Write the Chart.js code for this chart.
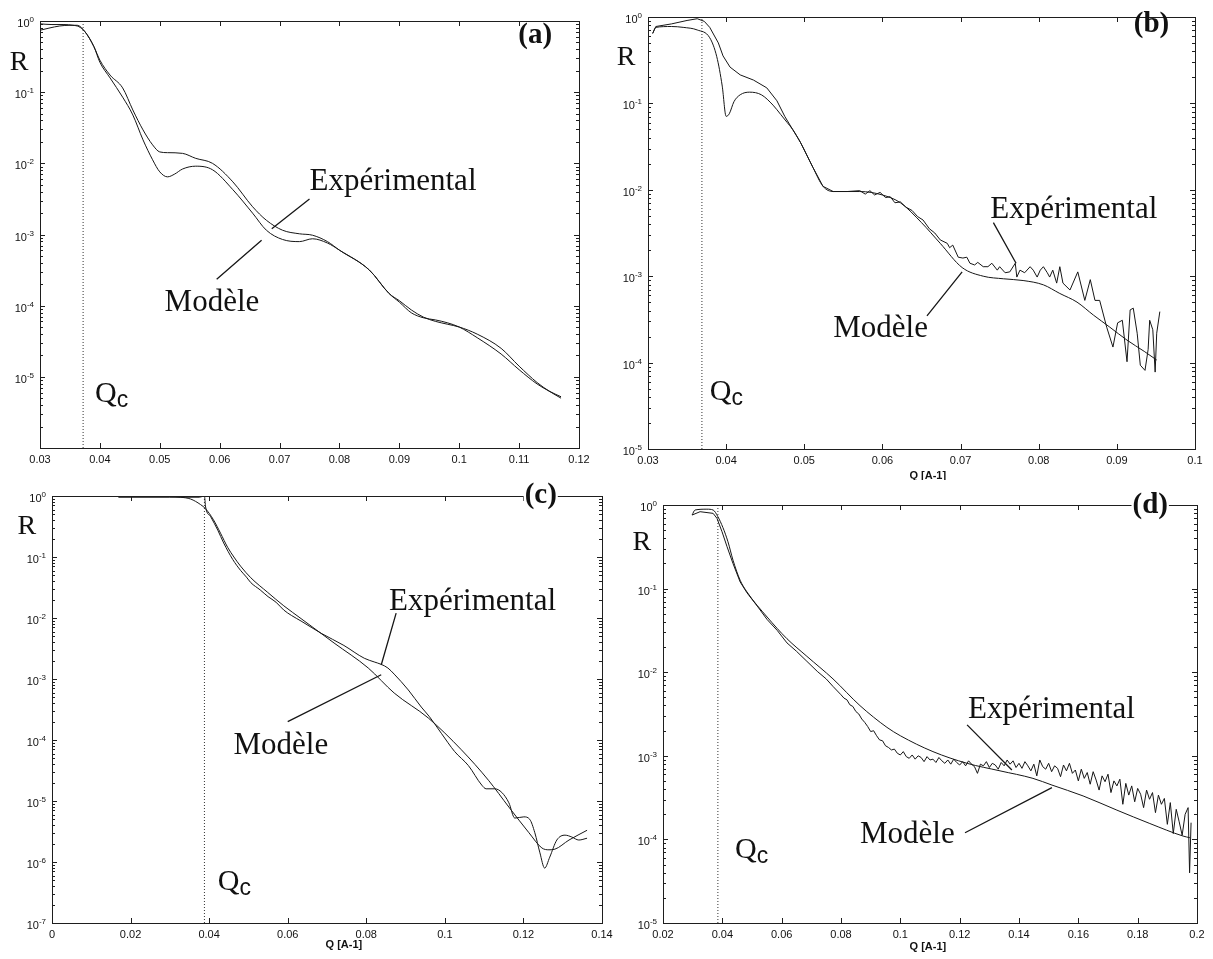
<!DOCTYPE html>
<html>
<head>
<meta charset="utf-8">
<script src="https://cdn.jsdelivr.net/npm/chart.js@4.4.0/dist/chart.umd.min.js"></script>
<style>
  html, body { margin: 0; padding: 0; background: #fff; }
  #page { position: relative; width: 1213px; height: 959px; overflow: hidden; background: #fff; }
  canvas { position: absolute; }
</style>
</head>
<body>
<div id="page">
  <canvas id="pa" width="620" height="480" style="left:0;top:0"></canvas>
  <canvas id="pb" width="607" height="480" style="left:606px;top:0"></canvas>
  <canvas id="pc" width="625" height="479" style="left:0;top:480px"></canvas>
  <canvas id="pd" width="607" height="479" style="left:606px;top:480px"></canvas>
</div>
<script>
// -------- DONNEES (Q en A-1, log10 R) --------

// (a)
const aExp = [[0.0300,-0.04],[0.0320,-0.05],[0.0340,-0.05],[0.0355,-0.06],[0.0365,-0.08],[0.0375,-0.15],
  [0.0390,-0.36],[0.0400,-0.55],[0.0417,-0.76],[0.0438,-0.94],[0.0455,-1.25],[0.0472,-1.53],[0.0488,-1.74],
  [0.0500,-1.84],[0.0513,-1.85],[0.0538,-1.86],[0.0560,-1.93],[0.0588,-2.00],[0.0622,-2.26],[0.0655,-2.61],
  [0.0678,-2.80],[0.0705,-2.94],[0.0733,-2.99],[0.0755,-3.01],[0.0780,-3.10],[0.0800,-3.22],[0.0850,-3.50],
  [0.0883,-3.83],[0.0900,-3.95],[0.0920,-4.10],[0.0940,-4.17],[0.0960,-4.20],[0.0980,-4.24],[0.1000,-4.30],
  [0.1030,-4.45],[0.1070,-4.68],[0.1100,-4.90],[0.1130,-5.10],[0.1150,-5.20],[0.1170,-5.28]];
const aMod = [[0.0300,-0.13],[0.0315,-0.10],[0.0333,-0.07],[0.0350,-0.06],[0.0362,-0.06],[0.0375,-0.15],
  [0.0390,-0.36],[0.0400,-0.58],[0.0417,-0.80],[0.0438,-1.07],[0.0455,-1.32],[0.0472,-1.67],[0.0488,-1.95],
  [0.0500,-2.12],[0.0513,-2.19],[0.0525,-2.15],[0.0538,-2.08],[0.0560,-2.04],[0.0588,-2.09],[0.0622,-2.37],
  [0.0655,-2.70],[0.0678,-2.94],[0.0705,-3.07],[0.0733,-3.10],[0.0755,-3.06],[0.0780,-3.12],[0.0800,-3.22],
  [0.0850,-3.50],[0.0883,-3.83],[0.0900,-3.93],[0.0920,-4.06],[0.0940,-4.16],[0.0960,-4.22],[0.0980,-4.26],
  [0.1000,-4.30],[0.1030,-4.40],[0.1070,-4.60],[0.1100,-4.85],[0.1130,-5.08],[0.1150,-5.20],[0.1170,-5.30]];
const aQc = 0.0372;
const aXTicks = [0.03,0.04,0.05,0.06,0.07,0.08,0.09,0.1,0.11,0.12];
const aXLabels = ['0.03','0.04','0.05','0.06','0.07','0.08','0.09','0.1','0.11','0.12'];
const aDecades = [0,-1,-2,-3,-4,-5,-6];
const aYLabels = ['0','-1','-2','-3','-4','-5',''];

// (b)
const bExp = [[0.0306,-0.19],[0.0310,-0.11],[0.0330,-0.08],[0.0350,-0.04],[0.0363,-0.02],[0.0372,-0.05],
  [0.0379,-0.12],[0.0390,-0.30],[0.0396,-0.45],[0.0405,-0.58],[0.0418,-0.67],[0.0435,-0.73],[0.0452,-0.82],
  [0.0465,-0.97],[0.0475,-1.15],[0.0485,-1.30],[0.0495,-1.45],[0.0511,-1.74],[0.0524,-1.96],[0.0537,-2.02],
  [0.0555,-2.02],[0.0571,-2.01],[0.0578,-2.05],[0.0584,-2.01],[0.0590,-2.06],[0.0597,-2.03],[0.0604,-2.09],
  [0.0610,-2.08],[0.0616,-2.15],[0.0623,-2.14],[0.0630,-2.20],[0.0638,-2.24],[0.0645,-2.31],[0.0652,-2.35],
  [0.0660,-2.45],[0.0667,-2.50],[0.0674,-2.58],[0.0683,-2.62],[0.0686,-2.67],[0.0690,-2.64],[0.0697,-2.78],
  [0.0703,-2.79],[0.0708,-2.78],[0.0712,-2.85],[0.0718,-2.87],[0.0722,-2.84],[0.0729,-2.89],[0.0735,-2.89],
  [0.0740,-2.85],[0.0747,-2.93],[0.0750,-2.89],[0.0757,-2.96],[0.0763,-2.95],[0.0770,-2.85],[0.0772,-3.01],
  [0.0776,-2.93],[0.0782,-2.96],[0.0789,-2.89],[0.0793,-2.93],[0.0798,-3.01],[0.0802,-2.93],[0.0806,-2.89],
  [0.0811,-2.96],[0.0814,-3.01],[0.0818,-2.93],[0.0823,-3.08],[0.0827,-2.89],[0.0831,-3.08],[0.0840,-3.16],
  [0.0850,-2.95],[0.0859,-3.28],[0.0866,-3.04],[0.0872,-3.28],[0.0878,-3.28],[0.0887,-3.59],[0.0895,-3.82],
  [0.0901,-3.54],[0.0907,-3.51],[0.0913,-3.99],[0.0917,-3.39],[0.0921,-3.37],[0.0926,-3.66],[0.0930,-4.03],
  [0.0936,-4.09],[0.0940,-3.85],[0.0942,-3.51],[0.0946,-3.62],[0.0949,-4.11],[0.0951,-3.66],[0.0955,-3.41]];
const bMod = [[0.0306,-0.19],[0.0310,-0.12],[0.0330,-0.11],[0.0345,-0.12],[0.0363,-0.15],[0.0379,-0.24],
  [0.0388,-0.46],[0.0395,-0.80],[0.0400,-1.15],[0.0404,-1.12],[0.0410,-0.98],[0.0418,-0.90],[0.0430,-0.87],
  [0.0445,-0.90],[0.0460,-1.02],[0.0470,-1.13],[0.0478,-1.22],[0.0485,-1.30],[0.0495,-1.45],[0.0511,-1.74],
  [0.0524,-1.96],[0.0537,-2.02],[0.0571,-2.02],[0.0600,-2.06],[0.0623,-2.15],[0.0650,-2.38],[0.0674,-2.62],
  [0.0702,-2.90],[0.0729,-3.00],[0.0755,-3.03],[0.0780,-3.05],[0.0806,-3.10],[0.0827,-3.20],[0.0849,-3.30],
  [0.0870,-3.45],[0.0891,-3.59],[0.0913,-3.74],[0.0935,-3.87],[0.0951,-3.97]];
const bQc = 0.0369;
const bXTicks = [0.03,0.04,0.05,0.06,0.07,0.08,0.09,0.1];
const bXLabels = ['0.03','0.04','0.05','0.06','0.07','0.08','0.09','0.1'];
const bDecades = [0,-1,-2,-3,-4,-5];
const bYLabels = ['0','-1','-2','-3','-4','-5'];

// (c)
const cExp = [[0.0169,-0.02],[0.0300,-0.02],[0.0375,-0.02],[0.0388,0.00],[0.0391,-0.18],[0.0404,-0.34],
  [0.0422,-0.56],[0.0437,-0.77],[0.0460,-1.04],[0.0480,-1.22],[0.0495,-1.33],[0.0506,-1.42],[0.0530,-1.54],
  [0.0550,-1.65],[0.0570,-1.74],[0.0590,-1.87],[0.0610,-1.96],[0.0634,-2.05],[0.0685,-2.25],[0.0743,-2.45],
  [0.0795,-2.66],[0.0820,-2.72],[0.0838,-2.76],[0.0855,-2.82],[0.0871,-2.92],[0.0907,-3.18],[0.0940,-3.46],
  [0.0961,-3.62],[0.0991,-3.89],[0.1025,-4.19],[0.1060,-4.42],[0.1094,-4.74],[0.1105,-4.80],[0.1127,-4.80],
  [0.1145,-4.86],[0.1163,-5.03],[0.1178,-5.28],[0.1201,-5.26],[0.1216,-5.30],[0.1229,-5.52],[0.1242,-5.85],
  [0.1254,-6.10],[0.1267,-5.92],[0.1285,-5.64],[0.1306,-5.56],[0.1323,-5.59],[0.1341,-5.64],[0.1362,-5.61]];
const cMod = [[0.0169,-0.01],[0.0300,-0.01],[0.0327,-0.02],[0.0353,-0.05],[0.0378,-0.14],[0.0391,-0.21],
  [0.0411,-0.39],[0.0429,-0.61],[0.0447,-0.84],[0.0463,-1.00],[0.0480,-1.15],[0.0506,-1.34],[0.0549,-1.58],
  [0.0590,-1.80],[0.0634,-2.01],[0.0718,-2.41],[0.0805,-2.82],[0.0871,-3.23],[0.0958,-3.64],[0.1042,-4.16],
  [0.1111,-4.66],[0.1163,-5.10],[0.1214,-5.52],[0.1247,-5.77],[0.1265,-5.80],[0.1280,-5.79],[0.1316,-5.64],
  [0.1362,-5.48]];
const cQc = 0.0388;
const cXTicks = [0,0.02,0.04,0.06,0.08,0.1,0.12,0.14];
const cXLabels = ['0','0.02','0.04','0.06','0.08','0.1','0.12','0.14'];
const cDecades = [0,-1,-2,-3,-4,-5,-6,-7];
const cYLabels = ['0','-1','-2','-3','-4','-5','-6','-7'];

// (d)
const dExp = [[0.0298,-0.12],[0.0325,-0.08],[0.0369,-0.10],[0.0382,-0.16],[0.0399,-0.32],[0.0416,-0.50],
  [0.0436,-0.70],[0.0460,-0.92],[0.0483,-1.05],[0.0520,-1.22],[0.0551,-1.37],[0.0585,-1.50],[0.0618,-1.65],
  [0.0650,-1.75],[0.0685,-1.87],[0.0720,-1.99],[0.0750,-2.08],[0.0773,-2.17],[0.0800,-2.27],[0.0810,-2.31],
  [0.0820,-2.33],[0.0830,-2.39],[0.0840,-2.41],[0.0850,-2.47],[0.0860,-2.50],[0.0870,-2.56],[0.0880,-2.60],
  [0.089,-2.65],[0.090,-2.71],[0.091,-2.70],[0.092,-2.76],[0.093,-2.81],[0.094,-2.82],[0.095,-2.88],
  [0.096,-2.90],[0.097,-2.93],[0.098,-2.92],[0.099,-2.97],[0.100,-2.99],[0.101,-2.95],[0.102,-3.01],
  [0.103,-3.03],[0.104,-2.99],[0.105,-3.04],[0.106,-3.00],[0.107,-3.02],[0.108,-3.07],[0.109,-3.01],
  [0.110,-3.05],[0.111,-3.04],[0.112,-3.08],[0.113,-3.02],[0.114,-3.06],[0.115,-3.09],[0.116,-3.05],
  [0.117,-3.10],[0.118,-3.04],[0.119,-3.08],[0.120,-3.11],[0.121,-3.07],[0.122,-3.12],[0.123,-3.06],
  [0.124,-3.10],[0.125,-3.13],[0.126,-3.21],[0.127,-3.10],[0.128,-3.12],[0.129,-3.07],[0.130,-3.14],
  [0.131,-3.09],[0.132,-3.11],[0.133,-3.16],[0.134,-3.08],[0.135,-3.12],[0.136,-3.05],[0.137,-3.10],
  [0.138,-3.06],[0.139,-3.14],[0.140,-3.09],[0.141,-3.15],[0.142,-3.07],[0.143,-3.12],[0.144,-3.18],
  [0.145,-3.10],[0.146,-3.24],[0.147,-3.05],[0.148,-3.13],[0.149,-3.16],[0.150,-3.09],[0.151,-3.19],
  [0.152,-3.12],[0.153,-3.15],[0.154,-3.25],[0.155,-3.11],[0.156,-3.18],[0.157,-3.09],[0.158,-3.21],
  [0.159,-3.17],[0.160,-3.30],[0.161,-3.16],[0.162,-3.27],[0.163,-3.20],[0.164,-3.34],[0.165,-3.19],
  [0.166,-3.29],[0.167,-3.41],[0.168,-3.24],[0.169,-3.31],[0.170,-3.22],[0.171,-3.44],[0.172,-3.30],
  [0.173,-3.36],[0.174,-3.28],[0.175,-3.58],[0.176,-3.33],[0.177,-3.47],[0.178,-3.36],[0.179,-3.55],
  [0.180,-3.39],[0.181,-3.46],[0.182,-3.62],[0.183,-3.41],[0.184,-3.52],[0.185,-3.44],[0.186,-3.68],
  [0.187,-3.47],[0.188,-3.58],[0.189,-3.51],[0.190,-3.82],[0.191,-3.56],[0.192,-3.93],[0.193,-3.64],
  [0.194,-3.79],[0.195,-3.95],[0.196,-3.70],[0.197,-3.62],[0.1975,-4.40],[0.198,-3.80]];
const dMod = [[0.0298,-0.12],[0.0308,-0.06],[0.0348,-0.05],[0.0369,-0.06],[0.0385,-0.14],[0.0402,-0.27],
  [0.0419,-0.44],[0.0436,-0.66],[0.0460,-0.90],[0.0483,-1.04],[0.0551,-1.34],[0.0618,-1.60],[0.0685,-1.81],
  [0.0773,-2.08],[0.0864,-2.40],[0.0955,-2.66],[0.1000,-2.76],[0.1110,-2.95],[0.1225,-3.09],[0.1336,-3.18],
  [0.1447,-3.27],[0.1511,-3.35],[0.1616,-3.48],[0.1730,-3.65],[0.1841,-3.81],[0.1953,-3.96],[0.1976,-3.98]];
const dQc = 0.0385;
const dXTicks = [0.02,0.04,0.06,0.08,0.1,0.12,0.14,0.16,0.18,0.2];
const dXLabels = ['0.02','0.04','0.06','0.08','0.1','0.12','0.14','0.16','0.18','0.2'];
const dDecades = [0,-1,-2,-3,-4,-5];
const dYLabels = ['0','-1','-2','-3','-4','-5'];

// -------- STYLE --------
const serif = '"Liberation Serif", "Times New Roman", serif';
const sans = '"Liberation Sans", Arial, sans-serif';
const ink = '#161616';

function courbe(pairs, smooth) {
  return {
    data: pairs.map(p => ({ x: p[0], y: p[1] })),
    borderColor: ink,
    borderWidth: 1,
    pointRadius: 0,
    fill: false,
    tension: 0,
    cubicInterpolationMode: smooth ? 'monotone' : 'default'
  };
}

function ligneQc(q, ymin, ymax) {
  return {
    data: [{ x: q, y: ymin }, { x: q, y: ymax }],
    borderColor: '#333',
    borderWidth: 1,
    borderDash: [1, 2],
    pointRadius: 0,
    fill: false
  };
}

// cadre, graduations, textes
const cadre = {
  id: 'cadre',
  afterDatasetsDraw(chart, args, o) {
    const { ctx, chartArea: a } = chart;
    const X = v => chart.scales.x.getPixelForValue(v);
    const Y = v => chart.scales.y.getPixelForValue(v);
    ctx.save();
    ctx.strokeStyle = '#1e1e1e';
    ctx.lineWidth = 1;
    ctx.strokeRect(Math.round(a.left) + 0.5, Math.round(a.top) + 0.5,
      Math.round(a.right - a.left), Math.round(a.bottom - a.top));

    ctx.beginPath();
    o.xTicks.forEach(v => {
      const px = Math.round(X(v)) + 0.5;
      ctx.moveTo(px, a.bottom); ctx.lineTo(px, a.bottom - 5);
      ctx.moveTo(px, a.top); ctx.lineTo(px, a.top + 5);
    });
    o.decades.forEach(d => {
      const py = Math.round(Y(d)) + 0.5;
      ctx.moveTo(a.left, py); ctx.lineTo(a.left + 5, py);
      ctx.moveTo(a.right, py); ctx.lineTo(a.right - 5, py);
      if (d < o.decades[0]) {
        for (let k = 2; k <= 9; k++) {
          const pm = Math.round(Y(d + Math.log10(k))) + 0.5;
          ctx.moveTo(a.left, pm); ctx.lineTo(a.left + 3, pm);
          ctx.moveTo(a.right, pm); ctx.lineTo(a.right - 3, pm);
        }
      }
    });
    ctx.stroke();

    // graduations texte
    ctx.fillStyle = '#111';
    ctx.font = '11px ' + sans;
    ctx.textAlign = 'center';
    ctx.textBaseline = 'top';
    o.xTicks.forEach((v, i) => ctx.fillText(o.xLabels[i], X(v), a.bottom + 6));

    ctx.textAlign = 'right';
    ctx.textBaseline = 'alphabetic';
    o.decades.forEach((d, i) => {
      const s = o.yLabels[i];
      if (!s) return;
      const py = Y(d);
      ctx.font = '8px ' + sans;
      const w = ctx.measureText(s).width;
      ctx.fillText(s, a.left - 6, py + 1);
      ctx.font = '11px ' + sans;
      ctx.fillText('10', a.left - 6 - w, py + 6);
    });

    if (o.titre) {
      ctx.font = 'bold 11px ' + sans;
      ctx.textAlign = 'center';
      ctx.textBaseline = 'middle';
      ctx.fillText('Q [A-1]', X(o.titre.q), a.bottom + o.titre.dy);
    }

    // traits de rappel
    ctx.strokeStyle = ink;
    ctx.lineWidth = 1.3;
    ctx.beginPath();
    o.rappels.forEach(r => {
      ctx.moveTo(X(r[0]), Y(r[1]));
      ctx.lineTo(X(r[2]), Y(r[3]));
    });
    ctx.stroke();

    // textes
    o.textes.forEach(t => {
      ctx.font = t.font;
      ctx.textAlign = t.align || 'left';
      ctx.textBaseline = t.base || 'alphabetic';
      const px = X(t.q), py = Y(t.l);
      if (t.fond) {
        const w = ctx.measureText(t.s).width;
        ctx.fillStyle = '#fff';
        ctx.fillRect(px - w - 1, py - 13, w + 2, 26);
      }
      ctx.fillStyle = '#111';
      ctx.fillText(t.s, px, py);
    });

    // Qc
    ctx.textAlign = 'left';
    ctx.textBaseline = 'alphabetic';
    ctx.font = '30px ' + serif;
    const qx = X(o.qc[0]), qy = Y(o.qc[1]);
    ctx.fillText('Q', qx, qy);
    const wq = ctx.measureText('Q').width;
    ctx.font = '23px ' + sans;
    ctx.fillText('c', qx + wq, qy + 5);
    ctx.restore();
  }
};

function panneau(id, pad, xr, yr, datasets, opts) {
  new Chart(document.getElementById(id), {
    type: 'line',
    data: { datasets },
    options: {
      responsive: false,
      animation: false,
      events: [],
      layout: { padding: pad },
      scales: {
        x: { type: 'linear', min: xr[0], max: xr[1], display: false },
        y: { type: 'linear', min: yr[0], max: yr[1], display: false }
      },
      plugins: { legend: { display: false }, tooltip: { enabled: false }, cadre: opts }
    },
    plugins: [cadre]
  });
}

const fR = '28px ' + serif;
const fLab = 'bold 29px ' + serif;
const fTxt = '31px ' + serif;

// (a)
panneau('pa', { left: 40, top: 21, right: 41, bottom: 32 }, [0.03, 0.12], [-6, 0],
  [courbe(aExp, true), courbe(aMod, true), ligneQc(aQc, -6, 0)],
  { xTicks: aXTicks, xLabels: aXLabels, decades: aDecades, yLabels: aYLabels,
    qc: [0.0392, -5.35],
    rappels: [[0.0750, -2.50, 0.0687, -2.92], [0.0595, -3.63, 0.0670, -3.08]],
    textes: [
      { s: 'R', q: 0.0265, l: -0.58, font: fR, align: 'center', base: 'middle' },
      { s: '(a)', q: 0.1155, l: -0.20, font: fLab, align: 'right', base: 'middle' },
      { s: 'Expérimental', q: 0.0750, l: -2.37, font: fTxt },
      { s: 'Modèle', q: 0.0508, l: -4.07, font: fTxt }
    ] });

// (b)
panneau('pb', { left: 42, top: 17, right: 18, bottom: 31 }, [0.03, 0.1], [-5, 0],
  [courbe(bExp, false), courbe(bMod, true), ligneQc(bQc, -5, 0)],
  { xTicks: bXTicks, xLabels: bXLabels, decades: bDecades, yLabels: bYLabels,
    qc: [0.0379, -4.43], titre: { q: 0.0658, dy: 27 },
    rappels: [[0.0742, -2.38, 0.0771, -2.85], [0.0657, -3.46, 0.0702, -2.95]],
    textes: [
      { s: 'R', q: 0.0272, l: -0.47, font: fR, align: 'center', base: 'middle' },
      { s: '(b)', q: 0.0967, l: -0.09, font: fLab, align: 'right', base: 'middle' },
      { s: 'Expérimental', q: 0.0738, l: -2.33, font: fTxt },
      { s: 'Modèle', q: 0.0537, l: -3.70, font: fTxt }
    ] });

// (c)
panneau('pc', { left: 52, top: 16, right: 23, bottom: 36 }, [0, 0.14], [-7, 0],
  [courbe(cExp, true), courbe(cMod, true), ligneQc(cQc, -7, 0)],
  { xTicks: cXTicks, xLabels: cXLabels, decades: cDecades, yLabels: cYLabels,
    qc: [0.0422, -6.46], titre: { q: 0.0743, dy: 22 },
    rappels: [[0.0876, -1.92, 0.0838, -2.77], [0.0600, -3.70, 0.0838, -2.93]],
    textes: [
      { s: 'R', q: -0.0064, l: -0.51, font: fR, align: 'center', base: 'middle' },
      { s: '(c)', q: 0.1285, l: 0.0, font: fLab, align: 'right', base: 'middle', fond: true },
      { s: 'Expérimental', q: 0.0858, l: -1.87, font: fTxt },
      { s: 'Modèle', q: 0.0462, l: -4.23, font: fTxt }
    ] });

// (d)
panneau('pd', { left: 57, top: 25, right: 16, bottom: 36 }, [0.02, 0.2], [-5, 0],
  [courbe(dExp, false), courbe(dMod, true), ligneQc(dQc, -5, 0)],
  { xTicks: dXTicks, xLabels: dXLabels, decades: dDecades, yLabels: dYLabels,
    qc: [0.0443, -4.22], titre: { q: 0.1093, dy: 24 },
    rappels: [[0.1225, -2.63, 0.1376, -3.17], [0.1218, -3.92, 0.1511, -3.38]],
    textes: [
      { s: 'R', q: 0.0129, l: -0.45, font: fR, align: 'center', base: 'middle' },
      { s: '(d)', q: 0.1902, l: -0.01, font: fLab, align: 'right', base: 'middle', fond: true },
      { s: 'Expérimental', q: 0.1228, l: -2.55, font: fTxt },
      { s: 'Modèle', q: 0.0864, l: -4.04, font: fTxt }
    ] });
</script>
</body>
</html>
